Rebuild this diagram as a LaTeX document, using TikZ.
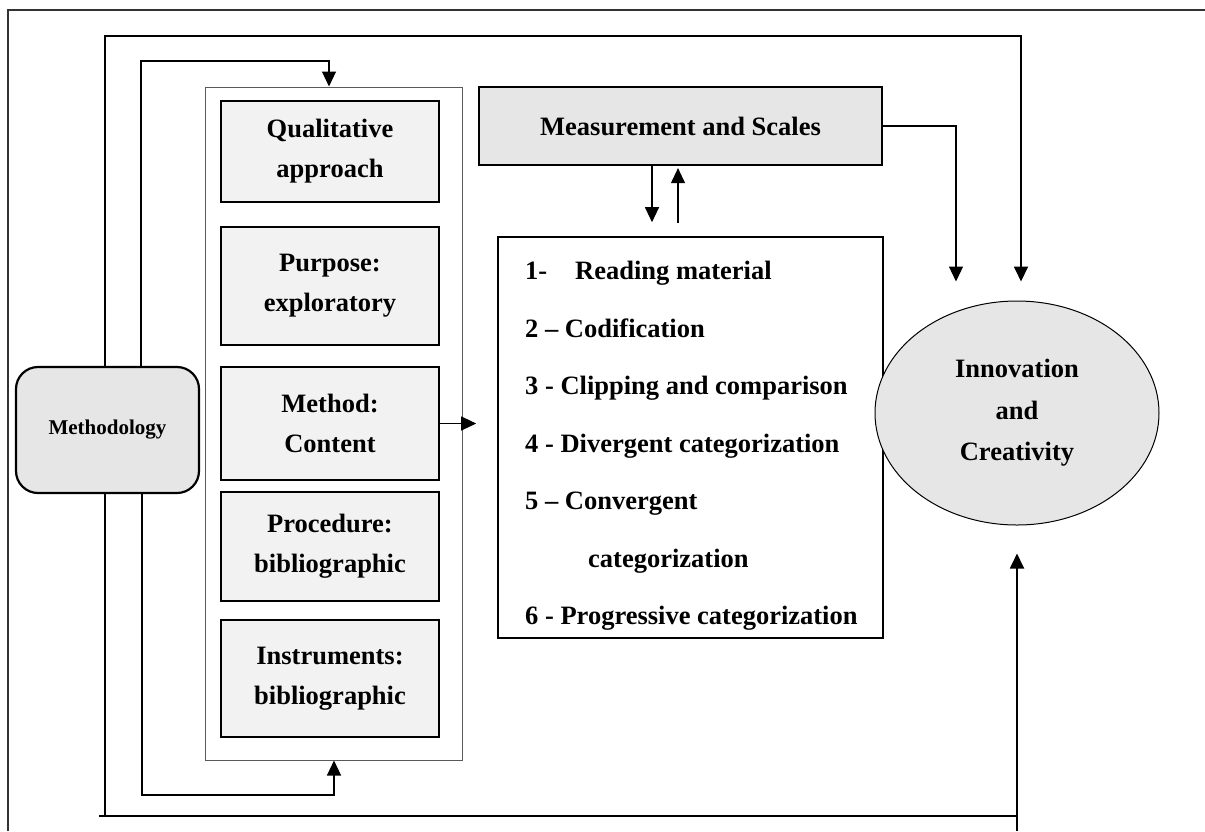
\documentclass[tikz,border=0pt]{standalone}
\usepackage{fontspec}
\setmainfont{Liberation Serif}
\usetikzlibrary{arrows.meta,shapes.geometric}
\definecolor{boxfill}{HTML}{F2F2F2}
\definecolor{darkfill}{HTML}{E6E6E6}
\begin{document}
\begin{tikzpicture}[x=1pt,y=-1pt,
  font=\bfseries\fontsize{26.5}{40}\selectfont,
  sidebox/.style={draw, line width=2.2pt, fill=boxfill, minimum width=218pt, inner sep=0pt, align=center},
  arr/.style={-{Triangle[length=15pt,width=14pt]}},
  heavy/.style={line width=1.8pt},
  light/.style={line width=1.1pt},
  txt/.style={anchor=base west, inner sep=0pt}]
\useasboundingbox (0,0) rectangle (1205,831);
% outer frame
\draw[line width=1.4pt, black!80] (8,831) -- (8,10) -- (1205,10);

% container and side boxes
\node[draw=black!65, line width=1pt, minimum width=257pt, minimum height=673pt, inner sep=0pt] (cont) at (333.5,423.5) {};
\node[sidebox, minimum height=101pt] (qual) at (330,151.5) {Qualitative\\approach};
\node[sidebox, minimum height=118pt] (purp) at (330,286) {Purpose:\\exploratory};
\node[sidebox, minimum height=113pt] (meth2) at (330,423.5) {Method:\\Content};
\node[sidebox, minimum height=109pt] (proc) at (330,546.5) {Procedure:\\bibliographic};
\node[sidebox, minimum height=117pt] (inst) at (330,678.5) {Instruments:\\bibliographic};

% methodology
\node[draw, line width=2.2pt, fill=darkfill, rounded corners=22pt, minimum width=183pt, minimum height=126pt, inner sep=0pt,
  font=\bfseries\fontsize{21}{25}\selectfont] (meth) at (107.5,430) {Methodology};

% measurement
\node[draw, line width=2.2pt, fill=darkfill, minimum width=403pt, minimum height=78pt, inner sep=0pt] (meas) at (680.5,126) {Measurement and Scales};

% list box
\node[draw, line width=1.6pt, minimum width=385pt, minimum height=401pt, inner sep=0pt] (list) at (690.5,437.5) {};
\node[txt] (l1a) at (525,279) {1-};
\node[txt] (l1b) at (575,279) {Reading material};
\node[txt] (l2) at (525,337) {2 – Codification};
\node[txt] (l3) at (525,394) {3 - Clipping and comparison};
\node[txt] (l4) at (525,452) {4 - Divergent categorization};
\node[txt] (l5) at (525,509) {5 – Convergent};
\node[txt] (l5b) at (588,567) {categorization};
\node[txt] (l6) at (525,624) {6 - Progressive categorization};

% circle
\node[draw, line width=1pt, fill=darkfill, ellipse, minimum width=284pt, minimum height=224pt, inner sep=0pt, align=center,
  font=\bfseries\fontsize{26.5}{41.5}\selectfont] (circ) at (1017,413) {Innovation\\and\\Creativity};

% corner coordinates
\coordinate (k1) at (1021,36);
\coordinate (k1s) at (105,36);
\coordinate (k2) at (141,61);
\coordinate (k2b) at (329,61);
\coordinate (k3) at (142,795);
\coordinate (k3b) at (334,795);
\coordinate (k4) at (105,816);
\coordinate (k4a) at (99,816);
\coordinate (k4b) at (1017,816);
\coordinate (k4c) at (1017,831);
\coordinate (k5) at (956,126);
\coordinate (k6) at (652,0);
\coordinate (k7) at (678,0);

% connectors
\draw[heavy,arr,shorten >=19pt] (meth.north -| k1s) |- (k1) -- (circ.north -| k1);
\draw[light,arr] (meth.north -| k2) |- (k2b) -- (cont.north -| k2b);
\draw[light,arr] (meth.south -| k3) |- (k3b) -- (cont.south -| k3b);
\draw[heavy,arr,shorten >=28pt] (meth.south -| k4) |- (k4b) -- (circ.south -| k4b);
\draw[heavy] (k4a) -- (k4);
\draw[heavy] (k4b) -- (k4c);
\draw[light,arr,shorten >=19pt] (meas.east) -| (circ.north -| k5);
\draw[light,arr,shorten >=14pt] (meas.south -| k6) -- (list.north -| k6);
\draw[light,arr,shorten <=13pt,shorten >=2pt] (list.north -| k7) -- (meas.south -| k7);
\draw[light,arr,shorten >=21pt] (meth2.east) -- (list.west |- meth2.east);
\end{tikzpicture}
\end{document}
